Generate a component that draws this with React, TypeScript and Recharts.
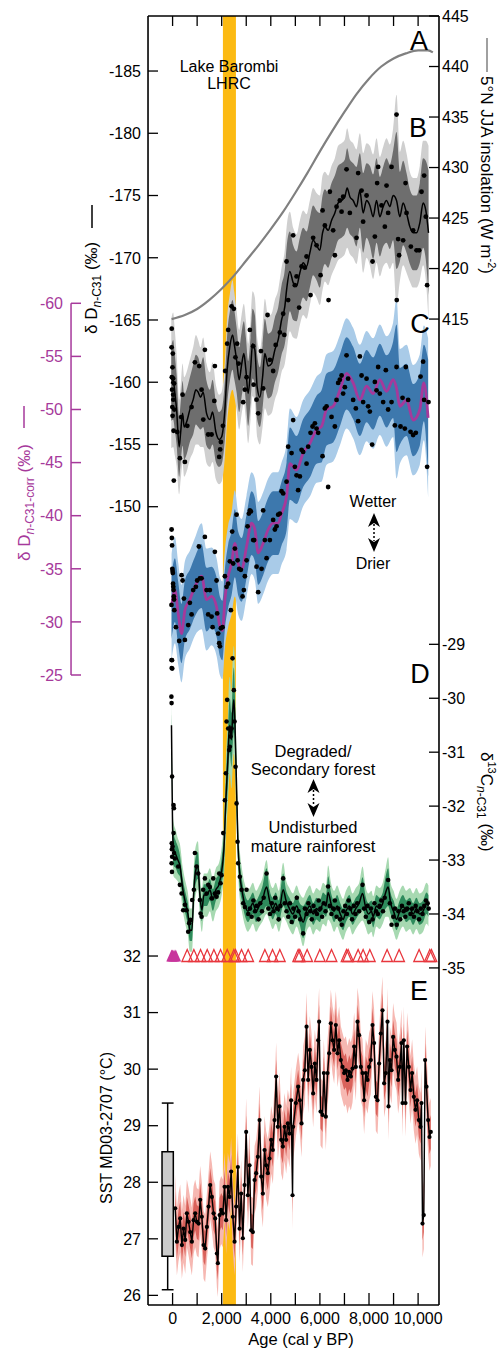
import React from 'react';
import {
  ComposedChart,
  XAxis,
  YAxis,
  Area,
  Line,
  Scatter,
  ReferenceArea,
  ReferenceLine,
} from 'recharts';

const W = 499;
const H = 1351;
const FONT = '"Liberation Sans", Arial, Helvetica, sans-serif';
const THIN = 0.01; // axes need a non-zero box to be drawn

// shared age axis (cal y BP)
const AGE_DOMAIN = [-1000, 10850];
const AGE_TICKS = [0, 1000, 2000, 3000, 4000, 5000, 6000, 7000, 8000, 9000, 10000];
const LHRC_AGES = [2050, 2580];
const CORR_AXIS_AGE = -4136; // where the magenta axis sits, left of the frame

// tick labels
const DD_TICKS = [-185, -180, -175, -170, -165, -160, -155, -150];
const CORR_TICKS = [-60, -55, -50, -45, -40, -35, -30, -25];
const INS_TICKS = [445, 440, 435, 430, 425, 420, 415];
const D13_TICKS = [-29, -30, -31, -32, -33, -34, -35];
const SST_TICKS = [26, 27, 28, 29, 30, 31, 32];

// A: 5°N JJA insolation
const INSOLATION = [
  [-40, 415.0], [500, 415.4], [1000, 416.0], [1500, 416.9], [2000, 418.0], [2500, 419.3],
  [3000, 420.8], [3500, 422.3], [4000, 423.9], [4500, 425.6], [5000, 427.5], [5500, 429.5],
  [6000, 431.6], [6500, 433.6], [7000, 435.5], [7500, 437.3], [8000, 438.8], [8500, 440.0],
  [9000, 440.8], [9500, 441.3], [10000, 441.6], [10400, 441.6], [10600, 441.4],
];

// B: dD n-C31  [age, smoothed, inner half-width, outer half-width]
const DD_SMOOTH = [
  [-53, -159.9, 3.0, 5.2], [24, -160.2, 3.2, 5.4], [94, -159.1, 3.0, 5.0], [163, -157.8, 2.8, 4.5],
  [269, -154.8, 2.4, 3.8], [326, -155.9, 2.4, 3.8], [407, -157.5, 2.6, 4.0], [472, -156.4, 2.6, 4.0],
  [570, -156.8, 2.6, 4.0], [704, -157.8, 2.6, 4.0], [839, -158.6, 2.8, 4.2], [949, -159.4, 2.8, 4.4],
  [1042, -159.2, 2.8, 4.2], [1140, -158.8, 2.6, 4.0], [1246, -159.2, 2.8, 4.4], [1384, -157.5, 2.6, 4.0],
  [1519, -157.0, 2.4, 3.8], [1629, -157.6, 2.6, 4.0], [1763, -156.0, 2.4, 3.8], [1898, -155.4, 2.2, 3.6],
  [1995, -155.6, 2.2, 3.6], [2130, -157.8, 2.4, 3.8], [2223, -161.0, 2.8, 4.2], [2333, -162.9, 2.8, 4.2],
  [2443, -163.8, 2.8, 4.4], [2508, -163.1, 2.8, 4.2], [2606, -161.8, 2.6, 4.0], [2712, -160.2, 2.6, 4.0],
  [2810, -161.4, 2.6, 4.0], [2903, -162.3, 2.6, 4.0], [2985, -161.0, 2.6, 4.0], [3078, -159.1, 2.6, 4.0],
  [3176, -161.0, 2.6, 4.0], [3258, -163.1, 2.8, 4.2], [3351, -162.6, 2.8, 4.2], [3445, -159.6, 2.6, 4.0],
  [3555, -158.8, 2.4, 3.8], [3665, -160.4, 2.6, 4.0], [3758, -162.3, 2.8, 4.4], [3893, -161.3, 2.6, 4.0],
  [4031, -161.5, 2.6, 4.0], [4166, -162.6, 2.6, 4.0], [4300, -163.4, 2.6, 4.0], [4438, -165.0, 2.8, 4.2],
  [4573, -166.1, 3.0, 4.6], [4642, -167.4, 3.4, 5.0], [4776, -168.9, 3.2, 4.8], [4911, -168.0, 3.0, 4.4],
  [5049, -167.7, 2.8, 4.2], [5184, -168.8, 2.8, 4.2], [5318, -169.6, 2.8, 4.2], [5456, -169.3, 2.8, 4.2],
  [5591, -170.4, 2.8, 4.2], [5725, -171.4, 2.8, 4.2], [5864, -171.0, 2.8, 4.2], [5998, -170.6, 3.0, 4.4],
  [6108, -172.0, 3.0, 4.6], [6202, -172.5, 3.0, 4.4], [6336, -172.2, 3.0, 4.4], [6474, -173.0, 3.0, 4.4],
  [6609, -173.6, 3.0, 4.4], [6743, -174.4, 3.0, 4.6], [6882, -174.6, 3.0, 4.6], [7016, -174.9, 3.0, 4.6],
  [7110, -175.6, 3.2, 4.8], [7220, -174.9, 3.0, 4.6], [7354, -174.6, 3.0, 4.6], [7492, -174.1, 3.2, 4.6],
  [7627, -175.4, 3.0, 4.6], [7761, -173.6, 3.2, 4.8], [7900, -174.6, 3.0, 4.6], [8034, -174.2, 3.2, 4.8],
  [8168, -173.3, 3.4, 5.0], [8307, -174.6, 3.4, 5.0], [8441, -173.3, 3.2, 4.8], [8576, -174.1, 3.2, 4.8],
  [8714, -174.6, 3.4, 5.0], [8848, -174.1, 3.4, 5.0], [8983, -175.0, 3.6, 5.4], [9121, -174.6, 5.5, 8.5],
  [9255, -173.3, 3.6, 5.2], [9390, -174.4, 3.4, 5.0], [9528, -173.6, 3.2, 4.8], [9662, -172.5, 3.0, 4.4],
  [9797, -172.0, 3.0, 4.4], [9936, -172.0, 3.0, 4.4], [10070, -172.8, 3.2, 4.6], [10204, -174.4, 3.6, 5.0],
  [10314, -173.8, 4.0, 5.6], [10424, -172.0, 5.0, 7.0],
];
const DD_POINTS = [
  [-40, -162.8], [-35, -164.3], [-30, -160.4], [-20, -159.4], [-10, -158.0], [-5, -161.2], [0, -157.3],
  [10, -162.3], [20, -160.3], [25, -159.0], [30, -158.6], [40, -156.1], [50, -152.1], [60, -159.9],
  [70, -157.8], [190, -156.0], [297, -153.9], [350, -157.2], [407, -159.0], [501, -153.6], [600, -156.5],
  [774, -158.0], [908, -161.6], [1083, -161.3], [1181, -159.4], [1250, -157.0], [1315, -162.6],
  [1450, -155.8], [1588, -155.8], [1700, -158.5], [1722, -161.3], [1898, -154.0], [1938, -154.6],
  [1967, -155.2], [2050, -156.5], [2142, -160.9], [2223, -163.1], [2264, -164.2], [2402, -166.1],
  [2496, -165.9], [2560, -162.0], [2630, -163.1], [2688, -161.5], [2875, -158.4], [2944, -159.4],
  [3013, -160.4], [3148, -164.2], [3282, -162.9], [3300, -159.8], [3420, -158.6], [3486, -157.5],
  [3600, -162.5], [3689, -159.5], [3868, -165.4], [3962, -161.8], [4096, -160.9], [4200, -163.0],
  [4369, -164.0], [4504, -165.5], [4550, -163.8], [4642, -169.7], [4707, -166.6], [4911, -171.8],
  [4980, -167.8], [5049, -168.5], [5155, -166.0], [5253, -169.3], [5387, -169.2], [5456, -170.1],
  [5619, -167.0], [5725, -171.6], [5864, -171.0], [6027, -168.6], [6108, -173.8], [6202, -172.6],
  [6352, -166.6], [6405, -175.3], [6540, -172.2], [6609, -170.2], [6678, -174.1], [6812, -174.6],
  [6882, -173.7], [6947, -174.9], [7085, -177.1], [7220, -173.6], [7492, -171.6], [7558, -176.8],
  [7696, -175.4], [7761, -172.9], [7900, -175.0], [8144, -169.7], [8238, -171.7], [8331, -176.0],
  [8372, -177.3], [8510, -174.2], [8645, -172.5], [8714, -175.8], [8779, -173.6], [8918, -177.3],
  [9121, -181.5], [9186, -171.5], [9227, -170.2], [9390, -171.4], [9488, -176.0], [9528, -173.6],
  [9704, -170.9], [9797, -172.2], [9936, -170.6], [10041, -170.6], [10139, -175.3], [10245, -176.6],
  [10314, -173.3], [10367, -167.8],
];

// C: dD n-C31-corr  [age, smoothed, inner, outer]
const CORR_SMOOTH = [
  [-41, -31.4, 3.0, 5.0], [94, -33.0, 3.0, 5.0], [228, -30.8, 3.0, 4.8], [366, -28.9, 2.8, 4.6],
  [501, -31.1, 2.8, 4.6], [704, -32.1, 2.8, 4.6], [908, -33.3, 2.8, 4.6], [1181, -34.3, 3.0, 5.0],
  [1384, -32.1, 3.0, 4.8], [1588, -32.4, 2.8, 4.6], [1792, -31.4, 2.8, 4.6], [1926, -29.6, 2.8, 4.6],
  [2036, -29.2, 2.8, 4.6], [2130, -32.1, 2.8, 4.6], [2264, -34.3, 3.0, 4.8], [2402, -35.5, 3.0, 4.8],
  [2537, -37.4, 3.2, 5.0], [2671, -35.5, 3.0, 4.8], [2810, -34.9, 3.0, 4.8], [3013, -37.1, 3.0, 4.8],
  [3217, -39.3, 3.0, 4.8], [3351, -38.7, 3.0, 4.8], [3486, -36.5, 3.0, 4.8], [3689, -37.4, 3.0, 4.8],
  [3893, -38.7, 3.0, 4.8], [4096, -39.3, 3.0, 4.8], [4300, -39.3, 3.0, 4.8], [4438, -40.2, 3.0, 4.8],
  [4642, -41.8, 3.2, 5.0], [4776, -44.9, 3.4, 5.2], [5049, -44.3, 3.2, 5.0], [5318, -45.9, 3.2, 5.0],
  [5591, -46.8, 3.2, 5.0], [5864, -48.1, 3.2, 5.0], [6067, -48.4, 3.4, 5.2], [6271, -50.0, 3.4, 5.2],
  [6540, -50.3, 3.4, 5.2], [6812, -51.8, 3.4, 5.2], [7085, -53.4, 3.4, 5.2], [7354, -52.5, 3.4, 5.2],
  [7627, -50.9, 3.4, 5.2], [7900, -52.2, 3.4, 5.2], [8168, -51.5, 3.4, 5.2], [8441, -52.8, 3.4, 5.2],
  [8714, -51.7, 3.4, 5.2], [8983, -52.8, 3.6, 5.4], [9121, -52.0, 6.0, 8.5], [9255, -50.3, 3.6, 5.4],
  [9528, -50.9, 3.4, 5.2], [9797, -49.0, 3.4, 5.2], [10070, -50.0, 3.4, 5.2], [10233, -52.5, 3.6, 5.4],
  [10408, -49.2, 5.5, 7.5],
];
const CORR_POINTS = [
  [-45, -31.6], [-40, -38.7], [-30, -37.9], [-25, -26.4], [-20, -37.2], [-15, -25.6], [-10, -35.0],
  [0, -34.8], [10, -34.6], [20, -33.6], [30, -33.3], [40, -33.0], [50, -32.4], [60, -32.1], [70, -31.1],
  [134, -29.5], [269, -28.2], [366, -34.4], [407, -33.9], [460, -32.2], [501, -28.3], [635, -29.7],
  [704, -31.8], [774, -30.7], [839, -33.0], [949, -33.3], [1002, -33.9], [1071, -37.1], [1112, -34.1],
  [1181, -34.1], [1315, -38.0], [1384, -33.0], [1450, -30.7], [1519, -33.0], [1588, -30.5], [1629, -29.5],
  [1722, -36.6], [1792, -33.9], [1816, -30.8], [1857, -28.9], [1898, -28.0], [1926, -27.7], [1967, -29.4],
  [2036, -29.5], [2130, -34.3], [2199, -33.3], [2264, -33.6], [2333, -35.7], [2374, -31.1], [2427, -38.5],
  [2468, -35.5], [2537, -36.9], [2606, -40.1], [2647, -35.8], [2712, -35.0], [2781, -34.9], [2850, -32.4],
  [2903, -33.0], [2944, -34.3], [3013, -35.8], [3054, -39.0], [3107, -40.2], [3148, -40.5], [3188, -40.4],
  [3282, -37.7], [3323, -37.7], [3420, -35.2], [3486, -32.8], [3624, -35.0], [3689, -40.5], [3758, -37.7],
  [3828, -36.0], [3962, -37.7], [4096, -39.6], [4166, -38.7], [4235, -39.0], [4300, -40.1], [4369, -40.2],
  [4438, -42.3], [4504, -42.1], [4642, -43.2], [4707, -46.5], [4846, -45.9], [4911, -49.0], [4980, -44.6],
  [5049, -43.8], [5114, -42.4], [5184, -43.7], [5253, -46.2], [5318, -46.0], [5456, -44.9], [5522, -46.5],
  [5619, -47.8], [5701, -48.4], [5795, -48.7], [5864, -48.2], [5929, -47.8], [6108, -45.6], [6202, -50.1],
  [6271, -50.3], [6336, -42.7], [6474, -49.3], [6609, -48.4], [6678, -50.9], [6743, -52.5], [6812, -52.8],
  [6882, -53.2], [6947, -51.5], [7016, -52.1], [7085, -55.1], [7150, -52.9], [7354, -50.9], [7464, -50.1],
  [7558, -48.9], [7627, -55.0], [7696, -53.2], [7761, -50.7], [7900, -52.9], [7965, -50.3], [8034, -49.8],
  [8128, -46.7], [8238, -52.6], [8307, -51.8], [8372, -54.0], [8441, -51.5], [8576, -50.7], [8686, -53.7],
  [8779, -50.0], [8918, -50.7], [9052, -48.5], [9121, -54.0], [9130, -60.3], [9284, -48.4], [9366, -51.1],
  [9459, -48.2], [9500, -54.0], [9594, -50.9], [9691, -47.9], [9797, -47.6], [9907, -47.8], [10099, -53.1],
  [10204, -54.5], [10245, -50.9], [10367, -44.6], [10424, -50.7],
];

// D: d13C n-C31  [age, smoothed, inner, outer]
const D13_SMOOTH = [
  [-45, -30.5, 0.25, 0.45], [-25, -31.4, 0.3, 0.5], [0, -32.4, 0.3, 0.5], [40, -32.8, 0.3, 0.5],
  [134, -32.9, 0.25, 0.45], [216, -33.0, 0.25, 0.4], [297, -33.1, 0.2, 0.4], [419, -33.55, 0.2, 0.4],
  [541, -33.83, 0.2, 0.4], [623, -34.0, 0.2, 0.4], [704, -34.3, 0.2, 0.4], [786, -34.3, 0.2, 0.4],
  [867, -33.55, 0.25, 0.45], [949, -33.18, 0.25, 0.45], [1030, -33.1, 0.25, 0.45], [1112, -33.65, 0.2, 0.4],
  [1193, -33.93, 0.2, 0.4], [1274, -33.65, 0.2, 0.4], [1397, -33.65, 0.2, 0.4], [1519, -33.55, 0.2, 0.4],
  [1641, -33.74, 0.2, 0.4], [1763, -33.55, 0.2, 0.4], [1885, -33.46, 0.2, 0.4], [2007, -33.18, 0.25, 0.45],
  [2089, -32.81, 0.3, 0.5], [2170, -31.88, 0.4, 0.7], [2252, -31.14, 0.5, 0.8], [2292, -30.68, 0.5, 0.9],
  [2333, -30.5, 0.5, 0.9], [2394, -30.77, 0.5, 0.9], [2455, -30.22, 0.6, 1.0], [2496, -30.03, 0.6, 1.0],
  [2537, -30.4, 0.5, 0.9], [2598, -31.52, 0.4, 0.7], [2659, -32.63, 0.3, 0.5], [2740, -33.28, 0.25, 0.45],
  [2822, -33.55, 0.2, 0.4], [2944, -33.83, 0.2, 0.38], [3066, -33.95, 0.2, 0.38], [3148, -33.9, 0.2, 0.38],
  [3270, -33.8, 0.2, 0.38], [3400, -33.95, 0.2, 0.38], [3530, -33.85, 0.2, 0.38], [3650, -33.75, 0.25, 0.4],
  [3828, -33.5, 0.35, 0.5], [3950, -33.75, 0.2, 0.38], [4080, -33.9, 0.2, 0.38], [4200, -33.8, 0.2, 0.38],
  [4330, -33.95, 0.2, 0.38], [4504, -33.55, 0.3, 0.5], [4620, -33.75, 0.2, 0.38], [4760, -33.9, 0.2, 0.38],
  [4900, -34.0, 0.2, 0.38], [5050, -33.85, 0.2, 0.38], [5180, -34.0, 0.2, 0.38], [5318, -34.15, 0.3, 0.45],
  [5450, -33.95, 0.2, 0.38], [5590, -33.85, 0.2, 0.38], [5730, -34.0, 0.2, 0.38], [5860, -33.9, 0.2, 0.38],
  [6000, -33.95, 0.2, 0.38], [6130, -33.8, 0.2, 0.38], [6250, -33.85, 0.2, 0.38], [6336, -33.6, 0.3, 0.5],
  [6450, -33.8, 0.2, 0.38], [6580, -33.95, 0.2, 0.38], [6700, -33.85, 0.2, 0.38], [6830, -34.0, 0.2, 0.38],
  [6947, -34.1, 0.2, 0.38], [7060, -33.95, 0.2, 0.38], [7200, -33.85, 0.2, 0.38], [7330, -34.0, 0.2, 0.38],
  [7460, -33.9, 0.2, 0.38], [7600, -33.8, 0.2, 0.38], [7737, -33.62, 0.3, 0.5], [7850, -33.85, 0.2, 0.38],
  [7980, -34.0, 0.2, 0.38], [8100, -33.95, 0.2, 0.38], [8168, -34.05, 0.2, 0.38], [8300, -33.85, 0.2, 0.38],
  [8430, -33.9, 0.2, 0.38], [8560, -33.8, 0.2, 0.38], [8680, -33.6, 0.3, 0.45], [8779, -33.5, 0.35, 0.55],
  [8880, -33.8, 0.2, 0.38], [9000, -33.95, 0.2, 0.38], [9121, -34.1, 0.2, 0.38], [9250, -33.95, 0.2, 0.38],
  [9380, -33.85, 0.2, 0.38], [9520, -33.95, 0.2, 0.38], [9663, -33.9, 0.2, 0.38], [9800, -34.0, 0.2, 0.38],
  [9930, -33.9, 0.2, 0.38], [10060, -34.0, 0.2, 0.38], [10200, -33.95, 0.2, 0.38], [10342, -33.8, 0.2, 0.38],
  [10420, -33.85, 0.2, 0.38],
];
const D13_POINTS = [
  [-48, -29.97], [-45, -29.29], [-40, -30.09], [-40, -33.06], [-38, -29.44], [-35, -32.69], [-30, -32.8],
  [-25, -33.22], [-20, -31.45], [-20, -32.94], [0, -32.75], [40, -31.98], [40, -32.5], [55, -32.04],
  [60, -32.87], [90, -32.97], [230, -33.12], [297, -33.46], [366, -33.62], [431, -33.93], [501, -33.83],
  [570, -33.93], [635, -34.33], [675, -34.17], [732, -34.11], [798, -33.74], [867, -33.55], [908, -32.87],
  [977, -33.12], [1042, -33.25], [1112, -33.74], [1140, -33.99], [1181, -34.05], [1246, -33.55],
  [1315, -33.34], [1384, -33.62], [1450, -33.46], [1519, -33.5], [1588, -33.71], [1656, -33.34],
  [1722, -33.62], [1792, -33.68], [1857, -33.6], [1898, -33.25], [1955, -33.43], [1995, -33.28],
  [2062, -32.5], [2130, -31.89], [2170, -31.39], [2199, -30.43], [2223, -30.03], [2264, -30.56],
  [2305, -30.96], [2333, -30.9], [2360, -30.71], [2402, -30.56], [2443, -29.26], [2496, -29.85],
  [2524, -30.43], [2565, -31.27], [2606, -31.95], [2647, -32.66], [2671, -33.06], [2740, -33.31],
  [2810, -33.55], [2875, -33.8], [2944, -33.87], [3013, -33.55], [3080, -34.0], [3150, -33.9],
  [3220, -34.05], [3290, -33.75], [3360, -33.95], [3430, -33.85], [3500, -34.1], [3570, -33.8],
  [3640, -33.95], [3710, -33.7], [3828, -33.25], [3900, -33.9], [3970, -34.0], [4040, -33.8],
  [4110, -33.95], [4180, -33.7], [4250, -33.9], [4320, -34.1], [4390, -33.85], [4504, -33.34],
  [4570, -33.8], [4640, -33.95], [4710, -34.05], [4780, -33.8], [4850, -34.15], [4920, -33.9],
  [4990, -34.05], [5060, -33.7], [5130, -33.95], [5200, -34.1], [5318, -34.36], [5390, -33.9],
  [5460, -34.0], [5530, -33.8], [5600, -33.95], [5670, -34.1], [5740, -33.85], [5810, -33.95],
  [5880, -34.0], [5950, -33.75], [6020, -33.9], [6090, -34.05], [6160, -33.8], [6230, -33.95],
  [6336, -33.49], [6400, -33.85], [6470, -34.0], [6540, -33.9], [6610, -33.75], [6680, -34.05],
  [6750, -33.9], [6820, -34.1], [6890, -34.2], [6960, -33.95], [7030, -33.85], [7100, -34.0],
  [7170, -33.75], [7240, -33.9], [7310, -34.1], [7380, -33.85], [7450, -34.0], [7520, -33.8],
  [7600, -33.95], [7737, -33.46], [7800, -33.9], [7870, -34.05], [7940, -33.85], [8010, -34.15],
  [8080, -33.9], [8150, -34.1], [8220, -33.8], [8290, -33.95], [8360, -34.0], [8430, -33.85],
  [8500, -33.75], [8570, -33.95], [8640, -33.7], [8779, -33.37], [8850, -33.8], [8918, -34.2],
  [8990, -34.05], [9060, -33.9], [9130, -34.2], [9200, -33.95], [9270, -34.1], [9340, -33.85],
  [9410, -33.95], [9480, -34.05], [9550, -33.9], [9620, -33.8], [9690, -34.0], [9760, -33.9],
  [9830, -34.05], [9900, -33.85], [9970, -33.95], [10040, -34.1], [10110, -33.9], [10180, -34.0],
  [10250, -33.85], [10320, -33.75], [10390, -33.8], [10430, -33.9],
];

// radiocarbon control points
const DATES_MODERN = [-40, 0, 60, 130];
const DATES_14C = [
  596, 868, 1140, 1411, 1683, 1954, 2225, 2497, 2565, 2809, 3080, 3759, 4072, 4369, 5115, 5183,
  5481, 5997, 6474, 7085, 7150, 7557, 7761, 8034, 8738, 9227, 10041, 10476, 10545,
];
const DATE_ROW = 32;

// E: SST MD03-2707
const SST = [
  [107, 27.54], [175, 26.95], [244, 27.21], [311, 27.36], [379, 26.89], [447, 27.18], [515, 26.98],
  [582, 27.45], [651, 27.3], [718, 27.12], [786, 26.95], [855, 27.33], [921, 27.45], [989, 27.3],
  [1058, 27.27], [1124, 27.69], [1193, 27.39], [1262, 26.89], [1327, 26.83], [1397, 27.21], [1466, 27.57],
  [1531, 27.95], [1600, 27.74], [1669, 27.45], [1735, 27.36], [1804, 26.74], [1844, 26.57], [1914, 27.42],
  [1979, 27.51], [2048, 27.45], [2117, 27.92], [2182, 27.33], [2252, 27.92], [2321, 27.74], [2386, 28.19],
  [2455, 27.39], [2524, 26.95], [2590, 27.57], [2659, 28.27], [2728, 27.18], [2793, 27.8], [2862, 27.01],
  [2932, 27.95], [2997, 28.89], [3066, 27.77], [3135, 28.3], [3200, 27.15], [3270, 27.12], [3339, 28.04],
  [3404, 28.16], [3473, 28.45], [3542, 29.1], [3608, 28.1], [3677, 27.8], [3746, 28.57], [3811, 28.3],
  [3880, 28.16], [3949, 28.42], [4015, 28.75], [4084, 28.57], [4153, 29.1], [4218, 29.87], [4287, 28.98],
  [4356, 29.34], [4422, 28.75], [4491, 28.63], [4560, 28.98], [4625, 28.75], [4695, 29.04], [4764, 28.86],
  [4829, 29.45], [4886, 27.77], [4910, 28.98], [5020, 29.4], [5115, 29.69], [5183, 29.45], [5252, 29.04],
  [5318, 29.81], [5387, 29.98], [5456, 30.75], [5521, 29.81], [5590, 30.34], [5660, 30.04], [5725, 29.57],
  [5794, 30.1], [5863, 29.81], [5928, 30.51], [5969, 30.84], [6026, 29.25], [6107, 29.19], [6160, 29.93],
  [6242, 29.16], [6311, 29.93], [6376, 30.28], [6445, 30.81], [6515, 30.51], [6580, 30.34], [6649, 30.78],
  [6718, 30.28], [6783, 30.51], [6853, 30.16], [6922, 30.04], [6987, 29.93], [7056, 29.98], [7125, 29.81],
  [7191, 29.95], [7260, 29.87], [7329, 30.01], [7394, 30.4], [7463, 30.04], [7532, 30.84], [7598, 30.6],
  [7667, 30.04], [7736, 29.93], [7801, 29.45], [7870, 29.93], [7940, 29.81], [8005, 30.04], [8074, 30.16],
  [8143, 30.78], [8208, 30.46], [8278, 29.51], [8347, 29.45], [8412, 30.1], [8481, 30.63], [8550, 31.04],
  [8615, 29.75], [8685, 29.93], [8754, 30.84], [8795, 29.34], [8848, 30.16], [8917, 29.98], [8982, 30.57],
  [9051, 30.34], [9121, 30.22], [9186, 29.81], [9255, 30.04], [9324, 30.46], [9365, 29.4], [9418, 30.51],
  [9487, 29.4], [9552, 30.4], [9621, 30.04], [9691, 29.63], [9756, 29.93], [9825, 29.51], [9894, 29.28],
  [9959, 29.45], [10029, 29.1], [10098, 28.98], [10138, 29.4], [10179, 27.27], [10232, 27.42],
  [10285, 30.16], [10342, 29.69], [10407, 29.1], [10464, 28.8], [10517, 28.89],
];
const SST_INNER = 0.3;
const SST_OUTER = 0.6;

// modern SST distribution (box plot)
const SST_BOX = { age: -200, halfWidth: 230, capHalf: 240, min: 26.1, q1: 26.69, median: 27.94, q3: 28.54, max: 29.4 };

// ---- build series rows ----
const withBands = (rows: number[][]) =>
  rows.map(([age, v, inner, outer]) => ({
    age,
    v,
    inner: [v - inner, v + inner],
    outer: [v - outer, v + outer],
  }));
const asPoints = (rows: number[][]) => rows.map(([age, v]) => ({ age, v }));

const insData = asPoints(INSOLATION);
const ddBand = withBands(DD_SMOOTH);
const ddDots = asPoints(DD_POINTS);
const corrBand = withBands(CORR_SMOOTH);
const corrDots = asPoints(CORR_POINTS);
const d13Band = withBands(D13_SMOOTH);
const d13Dots = asPoints(D13_POINTS);
const sstData = SST.map(([age, v]) => ({
  age,
  v,
  inner: [v - SST_INNER, v + SST_INNER],
  outer: [v - SST_OUTER, v + SST_OUTER],
}));
const modernDates = DATES_MODERN.map((age) => ({ age, v: DATE_ROW }));
const c14Dates = DATES_14C.map((age) => ({ age, v: DATE_ROW }));

const MAGENTA = '#a6399b';
const CORR_AXIS_X = 71;

// ---- ticks ----
const LeftTick = (p: any) => (
  <g>
    <line x1={p.x} y1={p.y} x2={p.x + 10} y2={p.y} stroke="#000" strokeWidth={1.3} />
    <text x={p.x - 7} y={p.y} dy="0.36em" textAnchor="end" fontSize={16} fontFamily={FONT} fill="#000">
      {p.payload.value}
    </text>
  </g>
);
const CorrTick = (p: any) => (
  <g>
    <line x1={CORR_AXIS_X} y1={p.y} x2={CORR_AXIS_X + 10} y2={p.y} stroke={MAGENTA} strokeWidth={1.5} />
    <text x={CORR_AXIS_X - 8} y={p.y} dy="0.36em" textAnchor="end" fontSize={16} fontFamily={FONT} fill={MAGENTA}>
      {p.payload.value}
    </text>
  </g>
);
const RightTick = (p: any) => (
  <g>
    <line x1={p.x - 10} y1={p.y} x2={p.x} y2={p.y} stroke="#000" strokeWidth={1.3} />
    <text x={p.x + 3} y={p.y} dy="0.36em" textAnchor="start" fontSize={16} fontFamily={FONT} fill="#000">
      {p.payload.value}
    </text>
  </g>
);
const BottomTick = (p: any) => (
  <g>
    <line x1={p.x} y1={p.y} x2={p.x} y2={p.y - 12} stroke="#000" strokeWidth={1.3} />
    {p.payload.value % 2000 === 0 && (
      <text x={p.x} y={p.y + 19} textAnchor="middle" fontSize={16} fontFamily={FONT} fill="#000">
        {p.payload.value.toLocaleString('en-US')}
      </text>
    )}
  </g>
);
const TopTick = (p: any) => (
  <line x1={p.x} y1={p.y} x2={p.x} y2={p.y + 10} stroke="#000" strokeWidth={1.3} />
);

// ---- marks ----
const blackDot = (r: number) => (p: any) => <circle cx={p.cx} cy={p.cy} r={r} fill="#000" />;
const OpenTriangle = (p: any) => (
  <polygon
    points={`${p.cx},${p.cy - 6.5} ${p.cx - 5.3},${p.cy + 5.5} ${p.cx + 5.3},${p.cy + 5.5}`}
    fill="none"
    stroke="#e8363d"
    strokeWidth={1.3}
  />
);
const FilledTriangle = (p: any) => (
  <polygon
    points={`${p.cx},${p.cy - 6.5} ${p.cx - 5.3},${p.cy + 5.5} ${p.cx + 5.3},${p.cy + 5.5}`}
    fill="#c8359c"
  />
);

const DoubleArrow = ({ x, top, bottom }: { x: number; top: number; bottom: number }) => (
  <g>
    <polygon points={`${x},${top} ${x - 6},${top + 14} ${x},${top + 10} ${x + 6},${top + 14}`} fill="#000" />
    <line x1={x} y1={top + 11} x2={x} y2={bottom - 11} stroke="#000" strokeWidth={1.5} strokeDasharray="2 2" />
    <polygon points={`${x},${bottom} ${x - 6},${bottom - 14} ${x},${bottom - 10} ${x + 6},${bottom - 14}`} fill="#000" />
  </g>
);

const txt = { fontFamily: FONT, fill: '#000' };

export default function App() {
  return (
    <div style={{ position: 'absolute', left: 0, top: 0, width: W, height: H, background: '#fff' }}>
      <ComposedChart width={W} height={H} margin={{ top: 16, right: 60, bottom: 46, left: 148 }}>
        <XAxis
          xAxisId="bottom"
          type="number"
          dataKey="age"
          domain={AGE_DOMAIN}
          ticks={AGE_TICKS}
          interval={0}
          height={THIN}
          tickSize={0}
          tickMargin={0}
          tickLine={false}
          tick={BottomTick}
          axisLine={{ stroke: '#000', strokeWidth: 1.6 }}
        />
        <XAxis
          xAxisId="top"
          orientation="top"
          type="number"
          dataKey="age"
          domain={AGE_DOMAIN}
          ticks={AGE_TICKS}
          interval={0}
          height={THIN}
          tickSize={0}
          tickMargin={0}
          tickLine={false}
          tick={TopTick}
          axisLine={{ stroke: '#000', strokeWidth: 1.6 }}
        />
        <YAxis
          yAxisId="dD"
          type="number"
          domain={[-189.42, -85.87]}
          reversed
          allowDataOverflow
          ticks={DD_TICKS}
          interval={0}
          width={THIN}
          tickSize={0}
          tickMargin={0}
          tickLine={false}
          tick={LeftTick}
          axisLine={{ stroke: '#000', strokeWidth: 1.6 }}
        />
        <YAxis
          yAxisId="corr"
          type="number"
          domain={[-87.05, 34.32]}
          reversed
          allowDataOverflow
          ticks={CORR_TICKS}
          interval={0}
          width={THIN}
          tickSize={0}
          tickMargin={0}
          tickLine={false}
          tick={CorrTick}
          axisLine={false}
        />
        <YAxis
          yAxisId="sst"
          type="number"
          domain={[25.83, 48.62]}
          allowDataOverflow
          ticks={SST_TICKS}
          interval={0}
          width={THIN}
          tickSize={0}
          tickMargin={0}
          tickLine={false}
          tick={LeftTick}
          axisLine={false}
        />
        <YAxis
          yAxisId="ins"
          orientation="right"
          type="number"
          domain={[317.4, 445]}
          allowDataOverflow
          ticks={INS_TICKS}
          interval={0}
          width={THIN}
          tickSize={0}
          tickMargin={0}
          tickLine={false}
          tick={RightTick}
          axisLine={{ stroke: '#000', strokeWidth: 1.6 }}
        />
        <YAxis
          yAxisId="d13"
          orientation="right"
          type="number"
          domain={[-41.25, -17.35]}
          allowDataOverflow
          ticks={D13_TICKS}
          interval={0}
          width={THIN}
          tickSize={0}
          tickMargin={0}
          tickLine={false}
          tick={RightTick}
          axisLine={false}
        />

        {/* Lake Barombi LHRC interval */}
        <ReferenceArea
          xAxisId="bottom"
          yAxisId="dD"
          x1={LHRC_AGES[0]}
          x2={LHRC_AGES[1]}
          fill="#fcba13"
          fillOpacity={1}
          stroke="none"
          zIndex={-50}
        />

        {/* magenta axis spine */}
        <ReferenceLine
          xAxisId="bottom"
          yAxisId="corr"
          segment={[{ x: CORR_AXIS_AGE, y: CORR_TICKS[0] }, { x: CORR_AXIS_AGE, y: CORR_TICKS[CORR_TICKS.length - 1] }]}
          stroke={MAGENTA}
          strokeWidth={1.5}
          ifOverflow="visible"
        />

        {/* B */}
        <Area data={ddBand} xAxisId="bottom" yAxisId="dD" dataKey="outer" type="monotone" fill="#cfcfcf" fillOpacity={1} stroke="none" isAnimationActive={false} />
        <Area data={ddBand} xAxisId="bottom" yAxisId="dD" dataKey="inner" type="monotone" fill="#6e6e6e" fillOpacity={1} stroke="none" isAnimationActive={false} />

        {/* C */}
        <Area data={corrBand} xAxisId="bottom" yAxisId="corr" dataKey="outer" type="monotone" fill="#a9cbe8" fillOpacity={1} stroke="none" isAnimationActive={false} />
        <Area data={corrBand} xAxisId="bottom" yAxisId="corr" dataKey="inner" type="monotone" fill="#3d78ad" fillOpacity={1} stroke="none" isAnimationActive={false} />

        {/* D */}
        <Area data={d13Band} xAxisId="bottom" yAxisId="d13" dataKey="outer" type="monotone" fill="#a7d9b1" fillOpacity={1} stroke="none" isAnimationActive={false} />
        <Area data={d13Band} xAxisId="bottom" yAxisId="d13" dataKey="inner" type="monotone" fill="#2e8b5c" fillOpacity={1} stroke="none" isAnimationActive={false} />

        {/* E */}
        <Area data={sstData} xAxisId="bottom" yAxisId="sst" dataKey="outer" type="linear" fill="#f6b8b2" fillOpacity={1} stroke="none" isAnimationActive={false} />
        <Area data={sstData} xAxisId="bottom" yAxisId="sst" dataKey="inner" type="linear" fill="#d9625b" fillOpacity={1} stroke="none" isAnimationActive={false} />

        {/* A */}
        <Line data={insData} xAxisId="top" yAxisId="ins" dataKey="v" type="monotone" stroke="#808080" strokeWidth={2.2} dot={false} isAnimationActive={false} />

        <Line data={ddBand} xAxisId="bottom" yAxisId="dD" dataKey="v" type="monotone" stroke="#000" strokeWidth={1.5} dot={false} isAnimationActive={false} />
        <Line data={corrBand} xAxisId="bottom" yAxisId="corr" dataKey="v" type="monotone" stroke={MAGENTA} strokeWidth={2.8} dot={false} isAnimationActive={false} />
        <Line data={d13Band} xAxisId="bottom" yAxisId="d13" dataKey="v" type="monotone" stroke="#000" strokeWidth={1.5} dot={false} isAnimationActive={false} />
        <Line data={sstData} xAxisId="bottom" yAxisId="sst" dataKey="v" type="linear" stroke="#000" strokeWidth={1.4} dot={false} isAnimationActive={false} />

        <Scatter data={ddDots} xAxisId="bottom" yAxisId="dD" dataKey="v" shape={blackDot(2.4)} isAnimationActive={false} />
        <Scatter data={corrDots} xAxisId="bottom" yAxisId="corr" dataKey="v" shape={blackDot(2.4)} isAnimationActive={false} />
        <Scatter data={d13Dots} xAxisId="bottom" yAxisId="d13" dataKey="v" shape={blackDot(2.3)} isAnimationActive={false} />
        <Scatter data={sstData} xAxisId="bottom" yAxisId="sst" dataKey="v" shape={blackDot(2.1)} isAnimationActive={false} />

        <Scatter data={c14Dates} xAxisId="bottom" yAxisId="sst" dataKey="v" shape={OpenTriangle} isAnimationActive={false} />
        <Scatter data={modernDates} xAxisId="bottom" yAxisId="sst" dataKey="v" shape={FilledTriangle} isAnimationActive={false} />

        {/* modern SST box plot */}
        <ReferenceLine xAxisId="bottom" yAxisId="sst" segment={[{ x: SST_BOX.age, y: SST_BOX.min }, { x: SST_BOX.age, y: SST_BOX.q1 }]} stroke="#000" strokeWidth={1.5} />
        <ReferenceLine xAxisId="bottom" yAxisId="sst" segment={[{ x: SST_BOX.age, y: SST_BOX.q3 }, { x: SST_BOX.age, y: SST_BOX.max }]} stroke="#000" strokeWidth={1.5} />
        <ReferenceLine xAxisId="bottom" yAxisId="sst" segment={[{ x: SST_BOX.age - SST_BOX.capHalf, y: SST_BOX.min }, { x: SST_BOX.age + SST_BOX.capHalf, y: SST_BOX.min }]} stroke="#000" strokeWidth={1.5} />
        <ReferenceLine xAxisId="bottom" yAxisId="sst" segment={[{ x: SST_BOX.age - SST_BOX.capHalf, y: SST_BOX.max }, { x: SST_BOX.age + SST_BOX.capHalf, y: SST_BOX.max }]} stroke="#000" strokeWidth={1.5} />
        <ReferenceArea
          xAxisId="bottom"
          yAxisId="sst"
          x1={SST_BOX.age - SST_BOX.halfWidth}
          x2={SST_BOX.age + SST_BOX.halfWidth}
          y1={SST_BOX.q1}
          y2={SST_BOX.q3}
          fill="#cccccc"
          fillOpacity={1}
          stroke="#000"
          strokeWidth={1.5}
        />
        <ReferenceLine xAxisId="bottom" yAxisId="sst" segment={[{ x: SST_BOX.age - SST_BOX.halfWidth, y: SST_BOX.median }, { x: SST_BOX.age + SST_BOX.halfWidth, y: SST_BOX.median }]} stroke="#000" strokeWidth={1.5} />
      </ComposedChart>

      <svg width={W} height={H} style={{ position: 'absolute', left: 0, top: 0, pointerEvents: 'none' }}>
        {/* panel letters */}
        <text x={419} y={50} fontSize={27} textAnchor="middle" {...txt}>A</text>
        <text x={418} y={137} fontSize={27} textAnchor="middle" {...txt}>B</text>
        <text x={420} y={333} fontSize={27} textAnchor="middle" {...txt}>C</text>
        <text x={420} y={683} fontSize={27} textAnchor="middle" {...txt}>D</text>
        <text x={419} y={1000} fontSize={27} textAnchor="middle" {...txt}>E</text>

        <text x={229} y={72} fontSize={16} textAnchor="middle" {...txt}>Lake Barombi</text>
        <text x={229} y={89} fontSize={16} textAnchor="middle" {...txt}>LHRC</text>

        <text x={373} y={507} fontSize={16} textAnchor="middle" {...txt}>Wetter</text>
        <DoubleArrow x={374} top={513} bottom={552} />
        <text x={373} y={569} fontSize={16} textAnchor="middle" {...txt}>Drier</text>

        <text x={313} y={757} fontSize={16.5} textAnchor="middle" {...txt}>Degraded/</text>
        <text x={313} y={775} fontSize={16.5} textAnchor="middle" {...txt}>Secondary forest</text>
        <DoubleArrow x={313.5} top={779} bottom={817} />
        <text x={313} y={833} fontSize={16.5} textAnchor="middle" {...txt}>Undisturbed</text>
        <text x={313} y={852} fontSize={16.5} textAnchor="middle" {...txt}>mature rainforest</text>

        {/* left axis titles */}
        <text transform="translate(97,334) rotate(-90)" fontSize={17} {...txt}>
          δ D<tspan fontSize={12} dy={4}><tspan fontStyle="italic">n</tspan>-C31</tspan>
          <tspan dy={-4}> (‰)</tspan>
        </text>
        <line x1={92} y1={228} x2={92} y2={205} stroke="#000" strokeWidth={1.5} />

        <text transform="translate(30,561) rotate(-90)" fontSize={17} fontFamily={FONT} fill={MAGENTA}>
          δ D<tspan fontSize={12} dy={4}><tspan fontStyle="italic">n</tspan>-C31-corr</tspan>
          <tspan dy={-4}> (‰)</tspan>
        </text>
        <line x1={24} y1={428} x2={24} y2={406} stroke={MAGENTA} strokeWidth={1.5} />

        <text transform="translate(112,1128) rotate(-90)" fontSize={16} textAnchor="middle" {...txt}>
          SST MD03-2707 (°C)
        </text>

        {/* right axis titles */}
        <line x1={487} y1={38} x2={487} y2={72} stroke="#808080" strokeWidth={1.5} />
        <text transform="translate(481,76) rotate(90)" fontSize={17} {...txt}>
          5°N JJA insolation (W m<tspan fontSize={11} dy={-7}>-2</tspan><tspan dy={7}>)</tspan>
        </text>

        <text transform="translate(481,752) rotate(90)" fontSize={17} {...txt}>
          δ<tspan fontSize={11} dy={-7}>13</tspan><tspan dy={7}>C</tspan>
          <tspan fontSize={12} dy={4}><tspan fontStyle="italic">n</tspan>-C31</tspan>
          <tspan dy={-4}> (‰)</tspan>
        </text>

        <text x={301} y={1345} fontSize={16.5} textAnchor="middle" {...txt}>Age (cal y BP)</text>
      </svg>
    </div>
  );
}
